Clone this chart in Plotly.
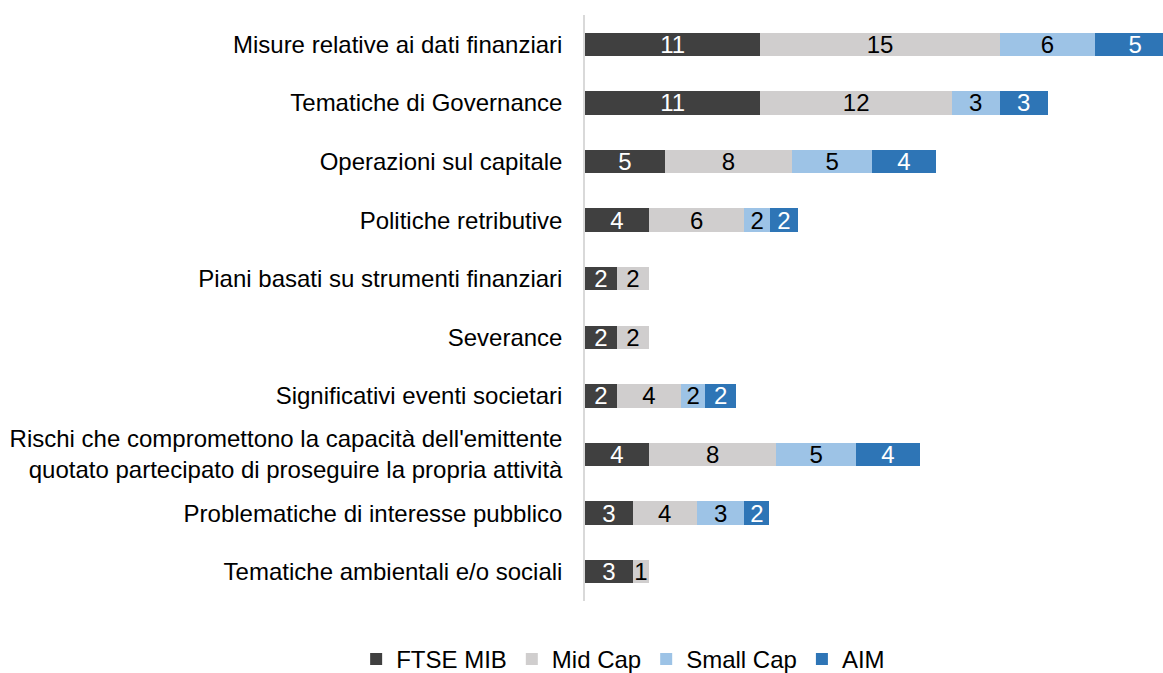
import plotly.graph_objects as go

categories = [
    "Misure relative ai dati finanziari",
    "Tematiche di Governance",
    "Operazioni sul capitale",
    "Politiche retributive",
    "Piani basati su strumenti finanziari",
    "Severance",
    "Significativi eventi societari",
    "Rischi che compromettono la capacità dell'emittente<br>quotato partecipato di proseguire la propria attività",
    "Problematiche di interesse pubblico",
    "Tematiche ambientali e/o sociali",
]

ftse_mib = [11, 11, 5, 4, 2, 2, 2, 4, 3, 3]
mid_cap = [15, 12, 8, 6, 2, 2, 4, 8, 4, 1]
small_cap = [6, 3, 5, 1.6, None, None, 1.55, 5, 3, None]
aim = [5, 3, 4, 1.75, None, None, 1.9, 4, 1.55, None]

series = [
    ("FTSE MIB", ftse_mib, "#404040", "white"),
    ("Mid Cap", mid_cap, "#D0CECE", "black"),
    ("Small Cap", small_cap, "#9DC3E6", "black"),
    ("AIM", aim, "#2E75B6", "white"),
]

FONT = "Liberation Sans, Arial, sans-serif"

fig = go.Figure()
for name, vals, color, tcolor in series:
    fig.add_trace(go.Bar(
        name=name,
        y=categories,
        x=vals,
        orientation="h",
        marker=dict(color=color, line=dict(width=0)),
        texttemplate="%{x:.0f}",
        textposition="inside",
        textangle=0,
        insidetextanchor="middle",
        constraintext="none",
        textfont=dict(color=tcolor, size=24, family=FONT),
        hoverinfo="skip",
    ))

fig.update_layout(
    barmode="stack",
    bargap=0.60,
    width=1163,
    height=673,
    margin=dict(l=585, r=0, t=15, b=72, autoexpand=False),
    plot_bgcolor="white",
    paper_bgcolor="white",
    font=dict(family=FONT, size=24, color="black"),
    showlegend=True,
    legend=dict(
        orientation="h",
        x=0.066, xanchor="center",
        y=-0.0995, yanchor="middle",
        font=dict(size=24),
        traceorder="normal",
    ),
    xaxis=dict(
        range=[0, 36.24],
        showgrid=False,
        zeroline=False,
        showticklabels=False,
        showline=False,
        fixedrange=True,
    ),
    yaxis=dict(
        autorange="reversed",
        showgrid=False,
        zeroline=False,
        showline=True,
        linecolor="#D9D9D9",
        linewidth=1.5,
        ticks="",
        ticklabelstandoff=16,
        tickfont=dict(size=24),
    ),
)

fig.write_html("out.html")
